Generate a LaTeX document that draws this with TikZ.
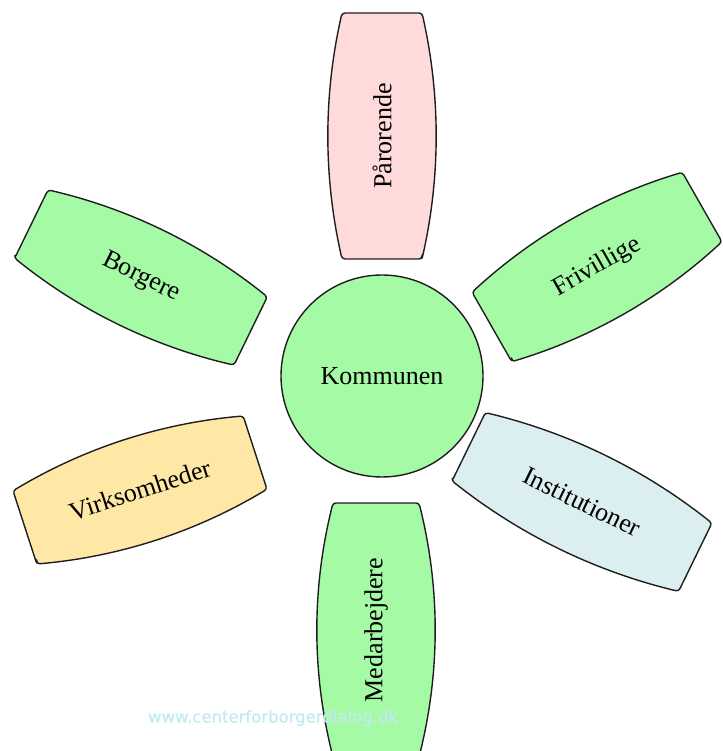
\documentclass[tikz,border=0pt]{standalone}
\usepackage{fontspec}
\setmainfont{Liberation Serif}
\newfontfamily\wmfont{DejaVu Sans}[FakeBold=1]
\definecolor{pgreen}{RGB}{165,250,165}
\definecolor{ppink}{RGB}{255,218,218}
\definecolor{pyellow}{RGB}{255,232,166}
\definecolor{pblue}{RGB}{220,239,240}
\definecolor{wmcol}{RGB}{196,234,240}
\definecolor{edgecol}{RGB}{30,30,30}
\newcommand\petalshape[9]{%
  \begin{scope}[shift={(#2,#3)}, rotate=#4]
    \path[petal, fill=#8] (-#5,-#6) -- (-#5,#6)
      .. controls ({-#5/3},{#6+4*#7/3}) and ({#5/3},{#6+4*#7/3}) .. (#5,#6)
      -- (#5,-#6)
      .. controls ({#5/3},{-#6-4*#7/3}) and ({-#5/3},{-#6-4*#7/3}) .. (-#5,-#6)
      -- cycle;
    \node[lbl, rotate=#4] (#1) at (0,0) {#9};
  \end{scope}}
\begin{document}
\begin{tikzpicture}[x=1pt,y=1pt,
  petal/.style={draw=edgecol, line width=1.4pt, rounded corners=3pt},
  hub/.style={circle, draw=edgecol, line width=1.4pt, fill=pgreen, minimum size=202pt, inner sep=0pt},
  lbl/.style={font=\fontsize{26}{30}\selectfont, inner sep=0pt},
  wm/.style={font=\wmfont\fontsize{16.5}{19}\selectfont, text=wmcol, inner sep=0pt}]
\useasboundingbox (0,0) rectangle (722,751);
\clip (0,0) rectangle (722,751);
\node[hub, lbl] (kommunen) at (382,375) {Kommunen};
\petalshape{paaroerende}{382}{615}{90}{123}{40}{14}{ppink}{Pårorende}
\petalshape{borgere}{141}{473.5}{-26}{122}{38}{14}{pgreen}{Borgere}
\petalshape{frivillige}{597}{484}{29.7}{121}{40}{14}{pgreen}{Frivillige}
\petalshape{virksomheder}{140}{261}{18}{121}{38.5}{14}{pyellow}{Virksomheder}
\petalshape{institutioner}{582}{249}{-26}{126}{38}{14}{pblue}{Institutioner}
\petalshape{medarbejdere}{376}{121}{90}{127}{43}{16}{pgreen}{Medarbejdere}
\node[wm] (watermark) at (273,33) {www.centerforborgerdialog.dk};
\end{tikzpicture}
\end{document}
